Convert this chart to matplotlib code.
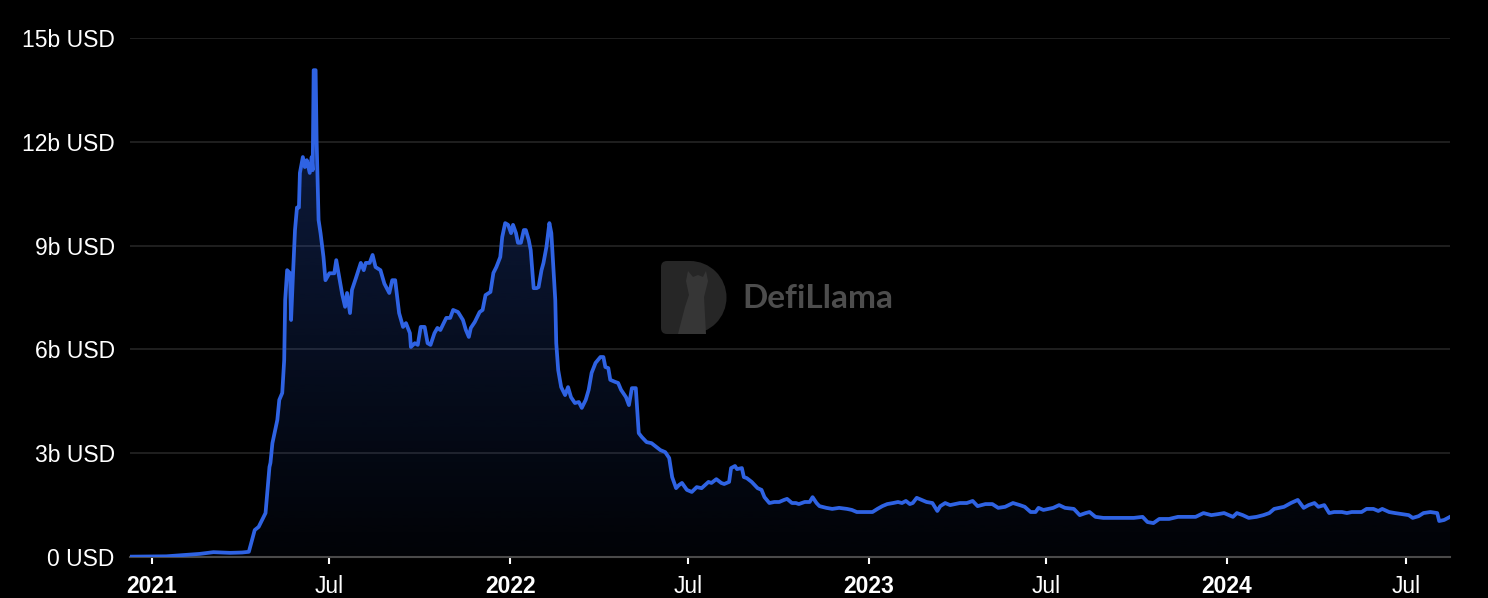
import matplotlib
matplotlib.use("Agg")
import matplotlib.pyplot as plt
import numpy as np
import pandas as pd
import matplotlib.dates as mdates
from matplotlib.patches import PathPatch, Rectangle, Wedge, FancyBboxPatch, Polygon
from matplotlib.path import Path

# TVL in billions of USD
dates = [
    "2020-12-10", "2021-01-16", "2021-02-19", "2021-03-05", "2021-03-22", "2021-04-03",
    "2021-04-10", "2021-04-16", "2021-04-20", "2021-04-27", "2021-05-01", "2021-05-02",
    "2021-05-04", "2021-05-09", "2021-05-11", "2021-05-14", "2021-05-16", "2021-05-17",
    "2021-05-19", "2021-05-22", "2021-05-23", "2021-05-25", "2021-05-27", "2021-05-29",
    "2021-05-31", "2021-06-01", "2021-06-04", "2021-06-06", "2021-06-08", "2021-06-11",
    "2021-06-13", "2021-06-14", "2021-06-15", "2021-06-17", "2021-06-18", "2021-06-20",
    "2021-06-22", "2021-06-25", "2021-06-27", "2021-07-01", "2021-07-06", "2021-07-08",
    "2021-07-11", "2021-07-14", "2021-07-17", "2021-07-19", "2021-07-22", "2021-07-24",
    "2021-07-28", "2021-08-02", "2021-08-05", "2021-08-07", "2021-08-11", "2021-08-14",
    "2021-08-17", "2021-08-22", "2021-08-26", "2021-08-31", "2021-09-03", "2021-09-06",
    "2021-09-10", "2021-09-14", "2021-09-17", "2021-09-21", "2021-09-22", "2021-09-26",
    "2021-09-29", "2021-10-02", "2021-10-06", "2021-10-09", "2021-10-12", "2021-10-16",
    "2021-10-19", "2021-10-22", "2021-10-28", "2021-11-01", "2021-11-04", "2021-11-09",
    "2021-11-14", "2021-11-17", "2021-11-20", "2021-11-22", "2021-11-26", "2021-12-01",
    "2021-12-04", "2021-12-07", "2021-12-12", "2021-12-15", "2021-12-18", "2021-12-22",
    "2021-12-24", "2021-12-27", "2021-12-30", "2022-01-02", "2022-01-04", "2022-01-07",
    "2022-01-09", "2022-01-12", "2022-01-15", "2022-01-17", "2022-01-20", "2022-01-22",
    "2022-01-25", "2022-01-28", "2022-01-30", "2022-02-02", "2022-02-04", "2022-02-07",
    "2022-02-10", "2022-02-12", "2022-02-14", "2022-02-16", "2022-02-17", "2022-02-19",
    "2022-02-22", "2022-02-26", "2022-03-01", "2022-03-04", "2022-03-08", "2022-03-12",
    "2022-03-15", "2022-03-19", "2022-03-22", "2022-03-25", "2022-03-29", "2022-04-03",
    "2022-04-06", "2022-04-08", "2022-04-11", "2022-04-13", "2022-04-18", "2022-04-21",
    "2022-04-24", "2022-04-29", "2022-05-02", "2022-05-05", "2022-05-09", "2022-05-12",
    "2022-05-15", "2022-05-20", "2022-05-25", "2022-05-30", "2022-06-03", "2022-06-08",
    "2022-06-12", "2022-06-15", "2022-06-19", "2022-06-22", "2022-06-25", "2022-06-30",
    "2022-07-05", "2022-07-10", "2022-07-15", "2022-07-22", "2022-07-25", "2022-07-30",
    "2022-08-04", "2022-08-07", "2022-08-12", "2022-08-14", "2022-08-18", "2022-08-20",
    "2022-08-25", "2022-08-27", "2022-08-30", "2022-09-04", "2022-09-10", "2022-09-14",
    "2022-09-17", "2022-09-22", "2022-09-27", "2022-10-02", "2022-10-07", "2022-10-10",
    "2022-10-15", "2022-10-19", "2022-10-22", "2022-10-28", "2022-11-02", "2022-11-05",
    "2022-11-09", "2022-11-12", "2022-11-19", "2022-11-25", "2022-12-02", "2022-12-10",
    "2022-12-15", "2022-12-20", "2022-12-30", "2023-01-05", "2023-01-10", "2023-01-15",
    "2023-01-20", "2023-01-26", "2023-01-31", "2023-02-04", "2023-02-08", "2023-02-12",
    "2023-02-15", "2023-02-19", "2023-02-24", "2023-03-01", "2023-03-07", "2023-03-12",
    "2023-03-15", "2023-03-20", "2023-03-25", "2023-03-30", "2023-04-04", "2023-04-11",
    "2023-04-17", "2023-04-22", "2023-04-30", "2023-05-07", "2023-05-13", "2023-05-20",
    "2023-05-28", "2023-06-04", "2023-06-09", "2023-06-15", "2023-06-20", "2023-06-23",
    "2023-06-28", "2023-07-03", "2023-07-08", "2023-07-14", "2023-07-20", "2023-07-29",
    "2023-08-04", "2023-08-10", "2023-08-14", "2023-08-20", "2023-08-28", "2023-09-07",
    "2023-09-18", "2023-09-28", "2023-10-07", "2023-10-12", "2023-10-18", "2023-10-24",
    "2023-11-03", "2023-11-12", "2023-11-22", "2023-11-30", "2023-12-08", "2023-12-16",
    "2023-12-23", "2023-12-29", "2024-01-03", "2024-01-07", "2024-01-11", "2024-01-17",
    "2024-01-23", "2024-01-31", "2024-02-07", "2024-02-13", "2024-02-18", "2024-02-23",
    "2024-02-28", "2024-03-06", "2024-03-13", "2024-03-19", "2024-03-24", "2024-03-30",
    "2024-04-03", "2024-04-09", "2024-04-14", "2024-04-19", "2024-04-27", "2024-05-02",
    "2024-05-07", "2024-05-12", "2024-05-17", "2024-05-22", "2024-05-29", "2024-06-03",
    "2024-06-07", "2024-06-14", "2024-06-20", "2024-06-27", "2024-07-04", "2024-07-08",
    "2024-07-14", "2024-07-19", "2024-07-26", "2024-08-02", "2024-08-04", "2024-08-09",
    "2024-08-15",
]
tvl = [
    0.01, 0.02, 0.09, 0.14, 0.12, 0.13,
    0.15, 0.78, 0.87, 1.27, 2.60, 2.72,
    3.29, 3.96, 4.54, 4.74, 5.69, 7.43,
    8.29, 8.20, 6.85, 8.20, 9.45, 10.10,
    10.10, 11.10, 11.56, 11.27, 11.47, 11.10,
    11.56, 11.18, 14.07, 14.07, 12.05, 9.74,
    9.36, 8.67, 8.00, 8.20, 8.20, 8.58,
    8.09, 7.60, 7.23, 7.63, 7.05, 7.72,
    8.06, 8.50, 8.29, 8.50, 8.50, 8.73,
    8.38, 8.29, 7.90, 7.63, 8.00, 8.00,
    7.05, 6.65, 6.76, 6.47, 6.07, 6.18,
    6.13, 6.65, 6.65, 6.18, 6.13, 6.47,
    6.62, 6.56, 6.91, 6.91, 7.14, 7.08,
    6.85, 6.56, 6.36, 6.62, 6.79, 7.08,
    7.14, 7.57, 7.66, 8.21, 8.38, 8.67,
    9.25, 9.65, 9.60, 9.36, 9.60, 9.36,
    9.08, 9.08, 9.45, 9.45, 9.16, 8.87,
    7.77, 7.77, 7.80, 8.29, 8.50, 8.96,
    9.65, 9.36, 8.38, 7.43, 6.18, 5.40,
    4.91, 4.68, 4.91, 4.62, 4.45, 4.48,
    4.31, 4.54, 4.83, 5.32, 5.61, 5.78,
    5.78, 5.49, 5.46, 5.12, 5.06, 5.03,
    4.83, 4.62, 4.39, 4.88, 4.88, 3.58,
    3.47, 3.32, 3.29, 3.18, 3.09, 3.03,
    2.86, 2.31, 1.99, 2.08, 2.14, 1.94,
    1.88, 2.02, 1.99, 2.17, 2.14, 2.25,
    2.14, 2.11, 2.17, 2.57, 2.63, 2.54,
    2.57, 2.31, 2.28, 2.17, 1.99, 1.94,
    1.73, 1.56, 1.59, 1.59, 1.65, 1.68,
    1.56, 1.56, 1.53, 1.59, 1.59, 1.73,
    1.56, 1.47, 1.42, 1.39, 1.42, 1.39,
    1.36, 1.30, 1.30, 1.30, 1.39, 1.47,
    1.53, 1.56, 1.59, 1.56, 1.62, 1.53,
    1.56, 1.71, 1.65, 1.59, 1.56, 1.33,
    1.47, 1.56, 1.50, 1.53, 1.56, 1.56,
    1.62, 1.47, 1.53, 1.53, 1.42, 1.45,
    1.56, 1.50, 1.45, 1.30, 1.30, 1.42,
    1.36, 1.39, 1.42, 1.50, 1.42, 1.39,
    1.21, 1.27, 1.30, 1.16, 1.13, 1.13,
    1.13, 1.13, 1.16, 1.01, 0.98, 1.10,
    1.10, 1.16, 1.16, 1.16, 1.27, 1.21,
    1.24, 1.27, 1.21, 1.16, 1.27, 1.21,
    1.13, 1.16, 1.21, 1.27, 1.39, 1.42,
    1.45, 1.56, 1.65, 1.42, 1.50, 1.56,
    1.45, 1.50, 1.27, 1.30, 1.30, 1.27,
    1.30, 1.30, 1.30, 1.39, 1.39, 1.33,
    1.39, 1.30, 1.27, 1.24, 1.21, 1.13,
    1.18, 1.27, 1.30, 1.27, 1.04, 1.07,
    1.16,
]

x_ticks = ["2021-01-01", "2021-07-01", "2022-01-01", "2022-07-01",
           "2023-01-01", "2023-07-01", "2024-01-01", "2024-07-01"]
x_labels = ["2021", "Jul", "2022", "Jul", "2023", "Jul", "2024", "Jul"]
y_ticks = [0, 3, 6, 9, 12, 15]
y_labels = ["0 USD", "3b USD", "6b USD", "9b USD", "12b USD", "15b USD"]

line_color = "#2f63e3"
plt.rcParams["font.family"] = ["Liberation Sans", "DejaVu Sans"]

x = pd.to_datetime(dates)
xn = mdates.date2num(x)

fig = plt.figure(figsize=(14.88, 5.98), dpi=100, facecolor="black")
ax = fig.add_axes([130 / 1488, 41 / 598, 1320 / 1488, 519 / 598])
ax.set_facecolor("black")

# gradient area under the line
verts = np.vstack([np.column_stack([xn, tvl]), [xn[-1], 0], [xn[0], 0]])
clip = PathPatch(Path(verts), facecolor="none", edgecolor="none")
ax.add_patch(clip)
rgba = np.zeros((256, 1, 4))
rgba[..., :3] = matplotlib.colors.to_rgb(line_color)
rgba[..., 3] = np.linspace(0.03, 0.3, 256)[:, None]
im = ax.imshow(rgba, extent=[xn[0], xn[-1], 0, max(tvl)], origin="lower",
               aspect="auto", zorder=1, interpolation="bilinear")
im.set_clip_path(clip)

ax.plot(x, tvl, color=line_color, lw=2.7, zorder=3, solid_joinstyle="round")

ax.set_xlim(xn[0], xn[-1])
ax.set_ylim(0, 15)

ax.set_yticks(y_ticks)
ax.set_yticklabels(y_labels)
ax.yaxis.grid(True, color="#222222", lw=1.3, zorder=0)
ax.set_axisbelow(True)
ax.tick_params(axis="y", length=0, pad=11, labelsize=16.5, labelcolor="white")

ax.set_xticks(mdates.date2num(pd.to_datetime(x_ticks)))
ax.set_xticklabels(x_labels)
ax.tick_params(axis="x", length=5, width=1.5, color="white", pad=8,
               labelsize=16.5, labelcolor="white")
for lab in ax.get_xticklabels():
    if lab.get_text() != "Jul":
        lab.set_fontweight("bold")

for s in ["top", "right", "left"]:
    ax.spines[s].set_visible(False)
ax.spines["bottom"].set_color("#4a4a4a")
ax.spines["bottom"].set_linewidth(1.5)

# DefiLlama watermark
lax = fig.add_axes([658 / 1488, (598 - 337) / 598, 72 / 1488, 80 / 598])
lax.set_xlim(0, 72)
lax.set_ylim(0, 80)
lax.axis("off")
dark = "#262626"
lax.add_patch(FancyBboxPatch((3, 3), 20, 73, boxstyle="round,pad=0,rounding_size=6",
                             fc=dark, ec="none"))
lax.add_patch(Rectangle((12, 3), 21, 73, fc=dark, ec="none"))
lax.add_patch(Wedge((32, 39.5), 36.5, -90, 90, fc=dark, ec="none"))
lax.add_patch(Polygon([(20, 3), (48, 3), (46, 40), (50, 56), (48, 66), (45, 60),
                       (40, 62), (35, 60), (30, 66), (28, 56), (31, 42), (27, 30)],
                      closed=True, fc="#363636", ec="none"))
fig.text(742 / 1488, (598 - 298) / 598, "DefiLlama", color="#4d4d4d", fontsize=24,
         fontweight="bold", va="center", ha="left", family=["Lato", "DejaVu Sans"])

fig.savefig("out.png", dpi=100, facecolor="black")
